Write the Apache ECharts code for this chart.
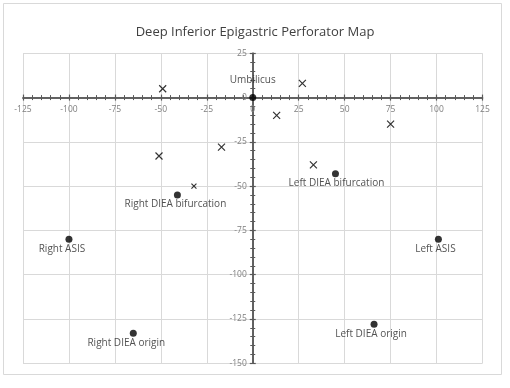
<!DOCTYPE html>
<html><head><meta charset="utf-8">
<script src="https://cdn.jsdelivr.net/npm/echarts@6/dist/echarts.min.js"></script>
<style>html,body{margin:0;padding:0;background:#fff}#c{width:510px;height:388px}</style>
</head><body><div id="c"></div>
<script>
const title = 'Deep Inferior Epigastric Perforator Map';
// Landmarks (filled dots) with labels
const landmarkNames = ['Umbilicus','Right DIEA bifurcation','Right ASIS','Right DIEA origin','Left DIEA bifurcation','Left ASIS','Left DIEA origin'];
const landmarkX = [0, -41, -100, -65, 45, 101, 66];
const landmarkY = [0, -55, -80, -133, -43, -80, -128];
// Perforators (crosses)
const perfX = [-49, -51, -17, 27, 13, 75, 33];
const perfY = [5, -33, -28, 8, -10, -15, -38];
// Small perforator
const smallPerfX = [-32];
const smallPerfY = [-50];
// axis ticks
const xMin = -125, xMax = 125, yMin = -150, yMax = 25, step = 25;

// label layout (presentation only)
const labelNudge = [0, -2, -7, -7, 1, -3, -3];
const labelAbove = [true, false, false, false, false, false, false];

const FONT = 'Open Sans';
const axisColor = '#595959';
const crossPath = 'path://M0,0L10,10M10,0L0,10';

const landmarkData = landmarkNames.map((n, i) => ({
  name: n, value: [landmarkX[i], landmarkY[i]],
  label: labelAbove[i]
    ? {position: 'top', distance: 9}
    : {position: 'bottom', distance: 1, offset: [labelNudge[i], 0]}
}));

function ax(dim, pos, showLabel) {
  return {
    type: 'value',
    min: dim === 'x' ? xMin : yMin, max: dim === 'x' ? xMax : yMax,
    interval: step, position: pos,
    axisLine: {show: true, onZero: false, lineStyle: {color: axisColor, width: 1.5}},
    axisTick: {show: true, length: 3, lineStyle: {color: axisColor, width: 1.2}},
    minorTick: {show: true, splitNumber: 5, length: 2.5, lineStyle: {color: axisColor, width: 1}},
    axisLabel: {show: showLabel, color: '#7f7f7f', fontFamily: FONT, fontSize: 8.5, margin: dim === 'x' ? 7 : 6},
    splitLine: {show: showLabel, lineStyle: {color: '#d9d9d9', width: 1}},
    minorSplitLine: {show: false}
  };
}

const chart = echarts.init(document.getElementById('c'), null, {renderer: 'canvas'});
chart.setOption({
  animation: false,
  backgroundColor: '#fff',
  title: {text: title, left: 'center', top: 21,
    textStyle: {fontFamily: FONT, fontSize: 13, fontWeight: 'normal', color: '#404040'}},
  graphic: [{type: 'rect', shape: {x: 3.5, y: 3.5, width: 498, height: 371},
    style: {fill: 'none', stroke: '#d9d9d9', lineWidth: 1}, silent: true, z: -10}],
  grid: {left: 23, right: 27.5, top: 53.3, bottom: 24.7, containLabel: false, outerBoundsMode: 'none'},
  xAxis: [ax('x', 'bottom', true), ax('x', 'top', false)],
  yAxis: [ax('y', 'left', true), ax('y', 'right', false)],
  series: [
    {type: 'scatter', name: 'Landmarks', symbol: 'circle', symbolSize: 7,
      itemStyle: {color: '#000'},
      label: {show: true, formatter: '{b}', color: '#262626', fontFamily: FONT, fontSize: 10},
      data: landmarkData, z: 5},
    {type: 'scatter', name: 'Perforators', symbol: crossPath, symbolSize: 7,
      itemStyle: {color: 'none', borderColor: '#000', borderWidth: 1.2},
      data: perfX.map((x, i) => [x, perfY[i]]), z: 4},
    {type: 'scatter', name: 'Small perforator', symbol: crossPath, symbolSize: 5,
      itemStyle: {color: 'none', borderColor: '#000', borderWidth: 1.2},
      data: smallPerfX.map((x, i) => [x, smallPerfY[i]]), z: 4}
  ]
});

// Move the axes so they cross at the origin, using the chart's own scales.
// Two passes so the offsets settle even if the grid re-lays out.
for (let pass = 0; pass < 2; pass++) {
  const lo = chart.convertToPixel({gridIndex: 0}, [xMin, yMin]);
  const hi = chart.convertToPixel({gridIndex: 0}, [xMax, yMax]);
  const zero = chart.convertToPixel({gridIndex: 0}, [0, 0]);
  chart.setOption({
    xAxis: [{offset: -(lo[1] - zero[1])}, {offset: -(zero[1] - hi[1])}],
    yAxis: [{offset: -(zero[0] - lo[0])}, {offset: -(hi[0] - zero[0])}]
  });
}
</script></body></html>
